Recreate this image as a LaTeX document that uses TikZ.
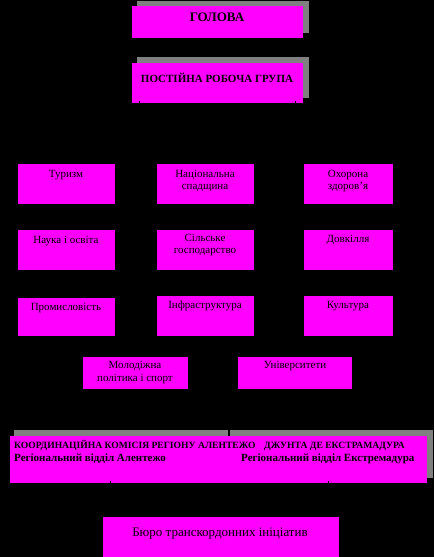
\documentclass[tikz,border=0pt]{standalone}
\usepackage{fontspec}
\setmainfont{Liberation Serif}
\usetikzlibrary{arrows.meta}
\definecolor{mag}{RGB}{255,0,255}
\definecolor{shad}{RGB}{128,128,128}
\begin{document}
\begin{tikzpicture}[x=1pt,y=-1pt,
  boxf/.style={fill=mag,draw=none},
  shadf/.style={fill=shad,draw=none},
  reg/.style={font=\fontsize{11}{12}\selectfont,inner sep=0pt,anchor=base,text=black},
  hd/.style={font=\bfseries\fontsize{13}{14}\selectfont,inner sep=0pt,anchor=base},
  grp/.style={font=\bfseries\fontsize{11}{12}\selectfont,inner sep=0pt,anchor=base},
  crd/.style={font=\bfseries\fontsize{9.6}{10}\selectfont,inner sep=0pt,anchor=base west},
  crdb/.style={font=\bfseries\fontsize{11}{12}\selectfont,inner sep=0pt,anchor=base west},
  conn/.style={draw=black,line width=0.8pt,-{Triangle[length=4pt,width=4pt]}},
  plain/.style={draw=black,line width=0.8pt}]
\fill[black] (0,0) rectangle (434,557);
\useasboundingbox (0,0) rectangle (434,557);
% shadows
\fill[shadf] (137,1) rectangle (309,33);
\fill[shadf] (137,57) rectangle (309,98);
\fill[shadf] (14,430) rectangle (228.4,440);
\fill[shadf] (229.6,430) rectangle (433,478);
% boxes
\node[boxf,inner sep=0,minimum width=171,minimum height=32] (head) at (217.5,22) {};
\node[inner sep=0,minimum width=172,minimum height=41] (groupsh) at (223,77.5) {};
\node[boxf,inner sep=0,minimum width=171,minimum height=40] (group) at (217.5,83) {};
\node[boxf,inner sep=0,minimum width=97,minimum height=40] (tur) at (66.5,184) {};
\node[boxf,inner sep=0,minimum width=97,minimum height=40] (nat) at (205.5,184) {};
\node[boxf,inner sep=0,minimum width=89,minimum height=40] (oh) at (348.5,184) {};
\node[boxf,inner sep=0,minimum width=97,minimum height=40] (nauk) at (66.5,250) {};
\node[boxf,inner sep=0,minimum width=97,minimum height=40] (sil) at (205.5,250) {};
\node[boxf,inner sep=0,minimum width=89,minimum height=40] (dov) at (348.5,250) {};
\node[boxf,inner sep=0,minimum width=97,minimum height=38] (prom) at (66.5,317) {};
\node[boxf,inner sep=0,minimum width=97,minimum height=40] (inf) at (205.5,316) {};
\node[boxf,inner sep=0,minimum width=89,minimum height=40] (kul) at (348.5,316) {};
\node[boxf,inner sep=0,minimum width=105,minimum height=32] (mol) at (135.5,373) {};
\node[boxf,inner sep=0,minimum width=114,minimum height=32] (univ) at (295,373) {};
\node[boxf,inner sep=0,minimum width=417,minimum height=47] (coord) at (218.5,459.5) {};
\node[boxf,inner sep=0,minimum width=236,minimum height=42] (buro) at (221,538) {};
% connectors (black on black, as in the original)
\draw[conn] (head.south) -- (groupsh.north);
\coordinate (g1) at (139,101);
\coordinate (g2) at (295,101);
\coordinate (g1e) at (139,150);
\coordinate (g2e) at (295,150);
\draw[plain] (g1) -- (g1e);
\draw[plain] (g2) -- (g2e);
\coordinate (c1) at (110,481);
\coordinate (c2) at (328,481);
\draw[plain] (c1) -- (c1 |- buro.north);
\draw[plain] (c2) -- (c2 |- buro.north);
% texts
\node[hd] (thead) at (217,21) {ГОЛОВА};
\node[grp] (tgroup) at (217,82) {ПОСТІЙНА РОБОЧА ГРУПА};
\node[reg] (ttur) at (66,177) {Туризм};
\node[reg] (tnat1) at (205,177) {Національна};
\node[reg] (tnat2) at (205,189) {спадщина};
\node[reg] (toh1) at (348,177) {Охорона};
\node[reg] (toh2) at (348,189) {здоров'я};
\node[reg] (tnauk) at (66,243) {Наука і освіта};
\node[reg] (tsil1) at (205,241) {Сільське};
\node[reg] (tsil2) at (205,253) {господарство};
\node[reg] (tdov) at (348,242) {Довкілля};
\node[reg] (tprom) at (66,310) {Промисловість};
\node[reg] (tinf) at (205,308) {Інфраструктура};
\node[reg] (tkul) at (348,308) {Культура};
\node[reg] (tmol1) at (135,368) {Молодіжна};
\node[reg] (tmol2) at (135,381) {політика і спорт};
\node[reg] (tuniv) at (295,368) {Університети};
\node[crd] (tc1) at (14,448) {КООРДИНАЦІЙНА КОМІСІЯ РЕГІОНУ АЛЕНТЕЖО};
\node[crd] (tc2) at (264,448) {ДЖУНТА ДЕ ЕКСТРАМАДУРА};
\node[crdb] (tc3) at (14,461) {Регіональний відділ Алентежо};
\node[crdb] (tc4) at (241,461) {Регіональний відділ Екстремадура};
\node[reg,font=\fontsize{13}{14}\selectfont] (tburo) at (220,536) {Бюро транскордонних ініціатив};
\end{tikzpicture}
\end{document}
